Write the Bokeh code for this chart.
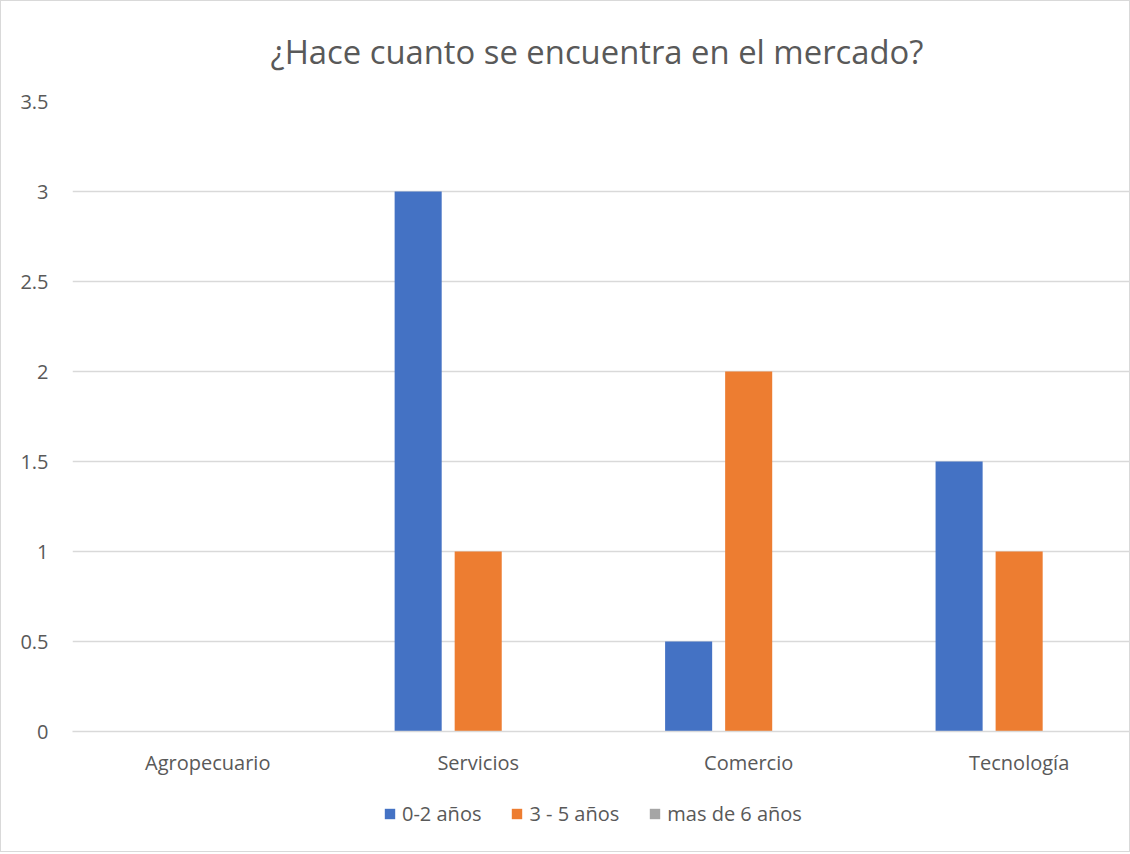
from bokeh.plotting import figure
from bokeh.models import ColumnDataSource, Range1d, FixedTicker, NumeralTickFormatter, Legend, LegendItem
from bokeh.layouts import column
from bokeh.transform import dodge
from bokeh.embed import file_html
from bokeh.resources import INLINE
import numpy as np

categories = ["Agropecuario", "Servicios", "Comercio", "Tecnología"]
series_names = ["0-2 años", "3 - 5 años", "mas de 6 años"]
v_0_2 = [0, 3, 0.5, 1.5]
v_3_5 = [0, 1, 2, 1]
v_6 = [0, 0, 0, 0]
y_ticks = [0, 0.5, 1, 1.5, 2, 2.5, 3, 3.5]
colors = ["#4472C4", "#ED7D31", "#A5A5A5"]

xpos = list(np.arange(len(categories)) + 0.5)
src = ColumnDataSource(dict(x=xpos, a=v_0_2, b=v_3_5, c=v_6))

FONT = "Open Sans"
TXT = "#595959"
LBL = "20px"

p = figure(width=1128, height=788, output_backend="svg", toolbar_location=None,
           x_range=Range1d(0, 3.908), y_range=Range1d(0, 3.5),
           min_border_left=71, min_border_right=0, min_border_top=100, min_border_bottom=58,
           title="¿Hace cuanto se encuentra en el mercado?")
p.outline_line_color = None
p.title.align = "left"
p.title.offset = 198
p.title.vertical_align = "top"
p.title.standoff = 51
p.title.text_font = FONT
p.title.text_font_size = "32.8px"
p.title.text_font_style = "normal"
p.title.text_color = TXT

off = 0.222
w = 0.174
r1 = p.vbar(x=dodge("x", -off, range=p.x_range), top="a", width=w, source=src, fill_color=colors[0], line_color=None)
r2 = p.vbar(x=dodge("x", 0, range=p.x_range), top="b", width=w, source=src, fill_color=colors[1], line_color=None)
r3 = p.vbar(x=dodge("x", off, range=p.x_range), top="c", width=w, source=src, fill_color=colors[2], line_color=None)

p.xaxis.ticker = FixedTicker(ticks=xpos)
p.xaxis.major_label_overrides = {x: c for x, c in zip(xpos, categories)}
p.xaxis.axis_line_color = "#d9d9d9"
p.xaxis.axis_line_width = 1.5
p.xaxis.major_tick_line_color = None
p.xaxis.minor_tick_line_color = None
p.xaxis.major_label_standoff = 11
p.xaxis.major_label_text_font = FONT
p.xaxis.major_label_text_font_size = LBL
p.xaxis.major_label_text_color = TXT

p.yaxis.ticker = FixedTicker(ticks=y_ticks)
p.yaxis.formatter = NumeralTickFormatter(format="0.[0]")
p.yaxis.axis_line_color = None
p.yaxis.major_tick_line_color = None
p.yaxis.minor_tick_line_color = None
p.yaxis.major_label_standoff = 18
p.yaxis.major_label_text_font = FONT
p.yaxis.major_label_text_font_size = LBL
p.yaxis.major_label_text_color = TXT

p.xgrid.grid_line_color = None
p.ygrid.grid_line_color = "#d9d9d9"
p.ygrid.grid_line_width = 1.5

# legend strip below the chart (its frame is aligned with the chart's frame)
pl = figure(width=1128, height=62, output_backend="svg", toolbar_location=None,
            x_range=Range1d(0, 1), y_range=Range1d(0, 1),
            min_border_left=0, min_border_right=0, min_border_top=0, min_border_bottom=0)
pl.axis.visible = False
pl.grid.grid_line_color = None
pl.outline_line_color = None
dummies = [pl.vbar(x=[0.5], top=[0], width=0, fill_color=c, line_color=None) for c in colors]
legend = Legend(items=[LegendItem(label=n, renderers=[r]) for n, r in zip(series_names, dummies)],
                orientation="horizontal", location=(311, 24),
                glyph_width=13, glyph_height=13, label_height=13, label_standoff=6, spacing=29,
                label_text_font=FONT, label_text_font_size=LBL, label_text_color=TXT,
                label_text_baseline="middle",
                border_line_color=None, background_fill_alpha=0, padding=0, margin=0)
pl.add_layout(legend)

layout = column(p, pl, spacing=0)
layout.styles = {"border": "1px solid #d9d9d9"}

open("out.html", "w").write(file_html(layout, INLINE))
